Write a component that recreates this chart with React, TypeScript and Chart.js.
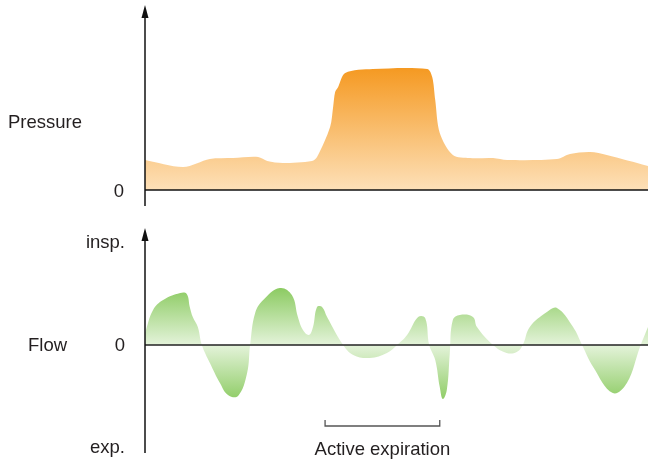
import React, { useEffect, useRef } from "react";
import { Chart, registerables } from "chart.js";

Chart.register(...registerables);

// time axis (arbitrary units 0..100)
const pressureTime = [0, 7.6, 12.9, 17.5, 22.5, 24.3, 27.4, 33.2, 34.2, 36.8, 37.4, 37.8, 38.4, 39.8, 45.3, 56.1, 57.1, 57.7, 58.6, 61.2, 64.6, 69.2, 72.0, 81.9, 84.5, 88.5, 91.8, 100];
const pressureValues = [30, 23, 31, 32, 33, 29, 27, 29, 33, 63, 83, 98, 103, 117, 121, 121, 113, 90, 57, 35, 32, 32, 30, 31, 36, 38, 35, 24];

const flowTime = [0, 1.6, 3.6, 7.0, 8.3, 8.9, 9.5, 10.5, 11.3, 12.9, 14.9, 16.5, 18.5, 20.3, 20.9, 21.9, 23.5, 26.8, 29.2, 30.4, 31.4, 32.6, 33.4, 34.2, 35.2, 36.2, 39.4, 41.4, 44.7, 48.1, 50.1, 52.1, 54.3, 55.7, 56.5, 57.7, 58.6, 59.2, 60.0, 60.6, 61.2, 62.6, 65.2, 66.0, 69.2, 71.9, 73.9, 75.1, 76.5, 79.9, 81.9, 85.1, 86.9, 89.1, 93.0, 95.8, 98.4, 100];
const flowValues = [12, 35, 45, 52, 51, 38, 28, 18, 0, -18, -38, -50, -51, -28, 0, 32, 45, 57, 50, 28, 15, 10, 18, 38, 38, 28, 0, -10, -13, -8, 0, 10, 28, 27, 0, -15, -42, -54, -45, -8, 25, 30, 28, 18, 0, -8, -7, 0, 18, 33, 37, 18, 0, -22, -48, -38, -2, 18];

const activeExpiration = [35.8, 58.6];
const activeLabel = "Active expiration";

const FONT = '18.5px "Liberation Sans", Arial, sans-serif';
const TEXT = "#231f20";

function toPoints(xs: number[], ys: number[]) {
  return xs.map((x, i) => ({ x, y: ys[i] }));
}

function drawArrowAxis(ctx: CanvasRenderingContext2D, x: number, yTop: number, yBottom: number) {
  ctx.save();
  ctx.strokeStyle = "#111";
  ctx.fillStyle = "#111";
  ctx.lineWidth = 1.5;
  ctx.beginPath();
  ctx.moveTo(x, yTop + 8);
  ctx.lineTo(x, yBottom);
  ctx.stroke();
  ctx.beginPath();
  ctx.moveTo(x, yTop);
  ctx.lineTo(x - 3.5, yTop + 13);
  ctx.lineTo(x + 3.5, yTop + 13);
  ctx.closePath();
  ctx.fill();
  ctx.restore();
}

export default function App() {
  const topRef = useRef<HTMLCanvasElement>(null);
  const botRef = useRef<HTMLCanvasElement>(null);

  useEffect(() => {
    document.body.style.margin = "0";
    const topPlugin = {
      id: "pressureDecor",
      afterDatasetsDraw(chart: any) {
        const ctx = chart.ctx as CanvasRenderingContext2D;
        const area = chart.chartArea;
        const y0 = chart.scales.y.getPixelForValue(0);
        ctx.save();
        ctx.strokeStyle = "#111";
        ctx.lineWidth = 1.5;
        ctx.beginPath();
        ctx.moveTo(area.left, y0);
        ctx.lineTo(area.right, y0);
        ctx.stroke();
        ctx.restore();
        drawArrowAxis(ctx, area.left, area.top, y0 + 16);
        ctx.save();
        ctx.font = FONT;
        ctx.fillStyle = TEXT;
        ctx.textBaseline = "alphabetic";
        ctx.textAlign = "left";
        ctx.fillText("Pressure", 8, 128);
        ctx.textAlign = "right";
        ctx.fillText("0", 124, y0 + 7);
        ctx.restore();
      },
    };

    const top = new Chart(topRef.current!, {
      type: "line",
      data: {
        datasets: [
          {
            data: toPoints(pressureTime, pressureValues),
            fill: "origin",
            borderWidth: 0,
            pointRadius: 0,
            tension: 0.3,
            backgroundColor: (c: any) => {
              const chart = c.chart;
              const area = chart.chartArea;
              if (!area) return "#fbc88a";
              const ys = chart.scales.y;
              const g = chart.ctx.createLinearGradient(0, ys.getPixelForValue(121), 0, ys.getPixelForValue(0));
              g.addColorStop(0, "#f59a23");
              g.addColorStop(1, "#fde0b8");
              return g;
            },
          },
        ],
      },
      options: {
        animation: false,
        responsive: false,
        events: [],
        layout: { padding: { left: 145, right: 0, top: 5, bottom: 20 } },
        plugins: { legend: { display: false }, tooltip: { enabled: false } },
        scales: {
          x: { type: "linear", min: 0, max: 100, display: false },
          y: { min: 0, max: 185, display: false },
        },
      },
      plugins: [topPlugin],
    } as any);

    const botPlugin = {
      id: "flowDecor",
      afterDatasetsDraw(chart: any) {
        const ctx = chart.ctx as CanvasRenderingContext2D;
        const area = chart.chartArea;
        const xs = chart.scales.x;
        const y0 = chart.scales.y.getPixelForValue(0);
        ctx.save();
        ctx.strokeStyle = "#222";
        ctx.lineWidth = 1.3;
        ctx.beginPath();
        ctx.moveTo(area.left, y0);
        ctx.lineTo(area.right, y0);
        ctx.stroke();
        ctx.restore();
        drawArrowAxis(ctx, area.left, area.top, area.bottom);
        const bx1 = xs.getPixelForValue(activeExpiration[0]);
        const bx2 = xs.getPixelForValue(activeExpiration[1]);
        const by = 216;
        ctx.save();
        ctx.strokeStyle = "#555";
        ctx.lineWidth = 1.3;
        ctx.beginPath();
        ctx.moveTo(bx1, by - 6);
        ctx.lineTo(bx1, by);
        ctx.lineTo(bx2, by);
        ctx.lineTo(bx2, by - 6);
        ctx.stroke();
        ctx.restore();
        ctx.save();
        ctx.font = FONT;
        ctx.fillStyle = TEXT;
        ctx.textBaseline = "alphabetic";
        ctx.textAlign = "center";
        ctx.fillText(activeLabel, (bx1 + bx2) / 2, 245);
        ctx.textAlign = "right";
        ctx.fillText("insp.", 125, 38);
        ctx.fillText("0", 125, y0 + 6);
        ctx.fillText("exp.", 125, 243);
        ctx.textAlign = "left";
        ctx.fillText("Flow", 28, y0 + 6);
        ctx.restore();
      },
    };

    const bot = new Chart(botRef.current!, {
      type: "line",
      data: {
        datasets: [
          {
            data: toPoints(flowTime, flowValues),
            fill: "origin",
            borderWidth: 0,
            pointRadius: 0,
            tension: 0.4,
            backgroundColor: (c: any) => {
              const chart = c.chart;
              const area = chart.chartArea;
              if (!area) return "#b8de9c";
              const ys = chart.scales.y;
              const g = chart.ctx.createLinearGradient(0, ys.getPixelForValue(57), 0, ys.getPixelForValue(-57));
              g.addColorStop(0, "#8ccb62");
              g.addColorStop(0.5, "#e4f3da");
              g.addColorStop(1, "#8ccb62");
              return g;
            },
          },
        ],
      },
      options: {
        animation: false,
        responsive: false,
        events: [],
        layout: { padding: { left: 145, right: 0, top: 18, bottom: 12 } },
        plugins: { legend: { display: false }, tooltip: { enabled: false } },
        scales: {
          x: { type: "linear", min: 0, max: 100, display: false },
          y: { min: -108, max: 117, display: false },
        },
      },
      plugins: [botPlugin],
    } as any);

    return () => {
      top.destroy();
      bot.destroy();
    };
  }, []);

  return (
    <div style={{ position: "relative", width: 648, height: 465, background: "#fff" }}>
      <canvas ref={topRef} width={648} height={210} style={{ position: "absolute", left: 0, top: 0, width: 648, height: 210 }} />
      <canvas ref={botRef} width={648} height={255} style={{ position: "absolute", left: 0, top: 210, width: 648, height: 255 }} />
    </div>
  );
}
